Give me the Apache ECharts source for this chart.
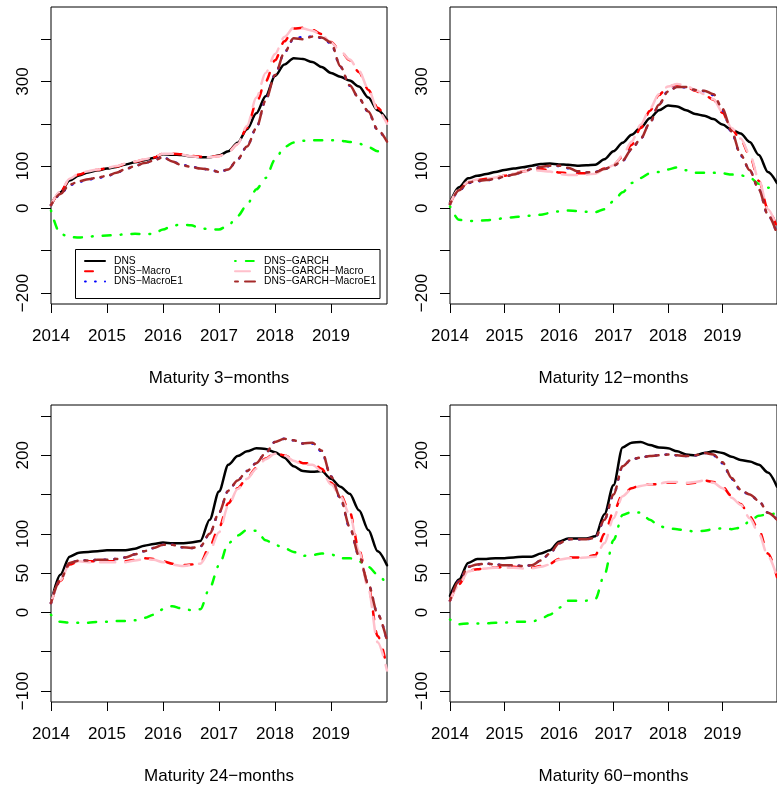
<!DOCTYPE html>
<html>
<head>
<meta charset="utf-8">
<script src="https://cdn.jsdelivr.net/npm/echarts@6/dist/echarts.min.js"></script>
<style>html,body{margin:0;padding:0;background:#fff;}#c{width:777px;height:787px;}</style>
</head>
<body>
<div id="c"></div>
<script>
// ---------------- data ----------------
const dates = [2014, 2014.167, 2014.333, 2014.5, 2014.667, 2014.833,
  2015, 2015.167, 2015.333, 2015.5, 2015.667, 2015.833,
  2016, 2016.167, 2016.333, 2016.5, 2016.667, 2016.833,
  2017, 2017.167, 2017.333, 2017.5, 2017.667, 2017.833,
  2018, 2018.167, 2018.333, 2018.5, 2018.667, 2018.833,
  2019, 2019.167, 2019.333, 2019.5, 2019.667, 2019.833, 2020];

const seriesNames = ['DNS', 'DNS\u2212Macro', 'DNS\u2212MacroE1', 'DNS\u2212GARCH', 'DNS\u2212GARCH\u2212Macro', 'DNS\u2212GARCH\u2212MacroE1'];
const panelTitles = ['Maturity 3\u2212months', 'Maturity 12\u2212months', 'Maturity 24\u2212months', 'Maturity 60\u2212months'];
const xTicks = [2014, 2015, 2016, 2017, 2018, 2019];
const yTicksTop = [-200, -100, 0, 100, 200, 300, 400];
const yLabelsTop = [-200, 0, 100, 300];
const yTicksBottom = [-100, -50, 0, 50, 100, 150, 200, 250];
const yLabelsBottom = [-100, 0, 50, 100, 200];

// Maturity 3-months
const dns3 = [8,38,66,78,85,90, 94,98,104,109,114,119, 128,127,126,123,121,121, 125,135,155,187,225,265, 313,340,355,353,346,334, 320,311,302,288,262,232, 209];
const macro3 = [8,39,68,80,87,91, 95,99,105,110,115,120, 129,129,128,124,122,122, 124,134,152,190,250,300, 350,395,425,427,422,412, 393,372,350,322,280,238, 205];
const macroE1_3 = [8,33,55,63,68,72, 76,84,93,100,107,113, 122,111,103,99,94,92, 86,92,116,147,190,257, 316,368,401,405,406,403, 390,335,290,260,228,185, 157];
const garch3 = [-5,-60,-68,-69,-67,-65, -64,-63,-61,-60,-61,-60, -50,-41,-38,-40,-47,-49, -50,-40,-18,8,45,72, 115,145,156,160,161,161, 161,160,157,153,145,135, 130];
const garchMacro3 = [8,40,70,82,88,92, 96,100,106,111,116,121, 129,129,127,123,121,121, 123,133,152,195,262,320, 365,405,427,425,420,410, 392,372,352,325,282,232, 200];
const garchMacroE1_3 = [8,34,56,64,69,73, 77,84,93,100,107,113, 121,111,102,98,94,92, 86,92,116,146,190,255, 315,368,402,400,406,404, 392,336,291,260,229,186, 158];

// Maturity 12-months
const dns12 = [13,50,71,77,81,86, 91,94,97,101,105,106, 104,103,101,102,103,116, 135,155,174,191,213,232, 243,241,232,223,219,211, 198,186,177,157,126,86, 60];
const macro12 = [10,45,62,67,70,73, 77,82,87,92,93,90, 85,83,83,83,85,94, 103,122,150,190,230,268, 288,292,288,278,268,257, 226,187,163,124,65,-2, -45];
const macroE1_12 = [10,42,60,64,66,70, 75,80,86,93,98,100, 100,95,88,85,86,93, 101,112,140,165,202,245, 278,287,286,280,277,268, 232,180,125,90,45,-15, -60];
const garch12 = [5,-27,-30,-29,-28,-26, -23,-21,-19,-17,-15,-11, -7,-5,-6,-8,-9,-2, 17,38,60,72,83,86, 92,97,90,84,84,84, 83,80,78,73,58,49, 45];
const garchMacro12 = [10,46,63,68,70,73, 77,82,87,90,89,87, 81,79,79,80,82,92, 102,125,158,198,235,270, 288,294,290,280,270,258, 228,190,165,128,68,-2, -45];
const garchMacroE1_12 = [10,43,61,65,67,70, 75,80,86,93,98,101, 101,96,88,85,86,93, 101,113,140,165,202,245, 276,287,287,280,278,270, 235,182,127,90,45,-15, -60];

// Maturity 24-months
const dns24 = [12,48,71,76,77,78, 79,79,79,81,85,87, 89,88,88,89,91,118, 154,188,199,205,209,208, 204,197,186,180,179,180, 170,160,151,130,105,78, 60];
const macro24 = [12,40,61,65,65,65, 65,65,65,67,69,68, 65,62,60,61,63,84, 108,139,158,171,184,196, 203,200,195,190,190,183, 165,150,128,80,33,-30, -70];
const macroE1_24 = [12,42,63,66,66,67, 67,68,70,74,78,82, 86,86,83,82,84,100, 127,155,168,180,190,203, 217,221,219,215,215,205, 173,145,108,72,36,-2, -36];
const garch24 = [-3,-12,-13,-13,-13,-12, -12,-11,-11,-10,-7,-3, 4,8,5,3,4,31, 60,88,98,105,104,92, 86,82,77,72,73,75, 74,69,69,65,58,48, 35];
const garchMacro24 = [12,41,62,65,64,64, 64,64,64,66,68,67, 64,61,59,60,62,78, 102,136,157,170,183,195, 202,200,193,188,188,180, 163,148,125,78,30,-38, -74];
const garchMacroE1_24 = [12,42,63,66,66,67, 67,68,70,74,78,82, 86,86,83,82,84,100, 127,155,168,180,190,203, 217,221,219,215,216,206, 173,146,109,72,36,-2, -36];

// Maturity 60-months
const dns60 = [21,42,63,68,68,69, 69,70,71,71,75,79, 90,94,94,94,97,125, 162,210,216,217,213,210, 209,205,201,200,203,205, 203,198,194,192,188,178, 160];
const macro60 = [15,36,53,55,56,57, 58,58,57,57,59,62, 68,70,70,71,73,100, 128,150,158,162,163,163, 165,165,164,165,168,166, 160,148,138,122,105,75, 45];
const macroE1_60 = [15,40,58,61,62,61, 60,60,59,60,66,75, 88,93,93,93,95,118, 150,186,195,197,199,200, 201,200,199,200,203,200, 190,170,155,150,142,127, 118];
const garch60 = [-9,-15,-14,-14,-14,-13, -13,-12,-12,-12,-8,-3, 6,15,15,15,17,48, 92,124,128,127,118,110, 107,106,104,103,104,106, 107,106,108,116,123,125, 126];
const garchMacro60 = [15,35,52,55,56,57, 57,57,56,56,58,61, 67,69,69,70,71,88, 120,148,157,161,163,164, 166,166,165,166,168,165, 158,146,137,120,100,72, 45];
const garchMacroE1_60 = [15,40,58,61,62,61, 60,60,59,60,66,75, 88,93,93,93,95,118, 150,186,195,197,199,200, 201,200,199,200,203,201, 191,171,156,150,142,127, 118];

const panelData = [
  [dns3, macro3, macroE1_3, garch3, garchMacro3, garchMacroE1_3],
  [dns12, macro12, macroE1_12, garch12, garchMacro12, garchMacroE1_12],
  [dns24, macro24, macroE1_24, garch24, garchMacro24, garchMacroE1_24],
  [dns60, macro60, macroE1_60, garch60, garchMacro60, garchMacroE1_60]
];

// ---------------- styles / layout ----------------
const lineColors = ['#000000', '#FF0000', '#0000FF', '#00FF00', '#FFC0CB', '#A52A2A'];
const lineDashes = ['solid', [8, 12], [0.8, 9.2], [0.8, 10, 8, 10], [15, 10], [3, 7, 13, 7]];
const FONT = 'Liberation Sans, Arial, Helvetica, sans-serif';
const panels = [
  {left: 51, top: 7, ymin: -226, ymax: 476, ticks: yTicksTop, labels: yLabelsTop},
  {left: 450, top: 7, ymin: -226, ymax: 476, ticks: yTicksTop, labels: yLabelsTop},
  {left: 51, top: 405, ymin: -114, ymax: 264, ticks: yTicksBottom, labels: yLabelsBottom},
  {left: 450, top: 405, ymin: -114, ymax: 264, ticks: yTicksBottom, labels: yLabelsBottom}
];
const fmt = v => (v < 0 ? '\u2212' + Math.abs(v) : String(v));

const grid = [], xAxis = [], yAxis = [], series = [];
panels.forEach((p, i) => {
  grid.push({left: p.left, top: p.top, width: 336, height: 297, show: true,
    borderColor: '#000', borderWidth: 1, backgroundColor: 'transparent', containLabel: false});
  xAxis.push({type: 'value', gridIndex: i, min: 2014, max: 2020, position: 'bottom',
    name: panelTitles[i], nameLocation: 'middle', nameGap: 66,
    nameTextStyle: {fontSize: 17, color: '#000', fontFamily: FONT},
    axisLine: {show: false, onZero: false}, splitLine: {show: false},
    axisTick: {show: true, customValues: xTicks, length: 9, lineStyle: {color: '#000', width: 1}},
    axisLabel: {show: true, customValues: xTicks, formatter: v => String(v), fontSize: 17, color: '#000', fontFamily: FONT, margin: 24}
  });
  yAxis.push({type: 'value', gridIndex: i, min: p.ymin, max: p.ymax, position: 'left',
    axisLine: {show: false, onZero: false}, splitLine: {show: false},
    axisTick: {show: true, customValues: p.ticks, length: 10, lineStyle: {color: '#000', width: 1}},
    axisLabel: {show: true, customValues: p.labels, formatter: fmt, rotate: 90, fontSize: 17, color: '#000', fontFamily: FONT, margin: 19}
  });
  panelData[i].forEach((arr, s) => {
    series.push({
      name: seriesNames[s], type: 'line', xAxisIndex: i, yAxisIndex: i,
      data: dates.map((d, k) => [d, arr[k]]),
      symbol: 'none', showSymbol: false, smooth: 0.3, smoothMonotone: 'x',
      lineStyle: {color: lineColors[s], width: 2.5, type: lineDashes[s], cap: 'round', join: 'round'},
      itemStyle: {color: lineColors[s]},
      emphasis: {disabled: true}, animation: false
    });
  });
});

const legendCommon = {orient: 'vertical', padding: 0, itemGap: 0.2, itemWidth: 20, itemHeight: 12,
  itemStyle: {opacity: 0, borderWidth: 0},
  lineStyle: {width: 2},
  textStyle: {fontSize: 10.3, color: '#000', fontFamily: FONT, padding: [0, 0, 0, 4]}, selectedMode: false};

const option = {
  animation: false,
  backgroundColor: '#fff',
  grid, xAxis, yAxis, series,
  legend: [
    Object.assign({}, legendCommon, {left: 84, top: 256, data: seriesNames.slice(0, 3)}),
    Object.assign({}, legendCommon, {left: 234, top: 256, data: seriesNames.slice(3, 6)})
  ],
  graphic: [{type: 'rect', shape: {x: 75.5, y: 249.5, width: 304.5, height: 49}, style: {fill: 'transparent', stroke: '#000', lineWidth: 1}, z: 100}]
};
const chart = echarts.init(document.getElementById('c'), null, {renderer: 'canvas'});
chart.setOption(option);
</script>
</body>
</html>
